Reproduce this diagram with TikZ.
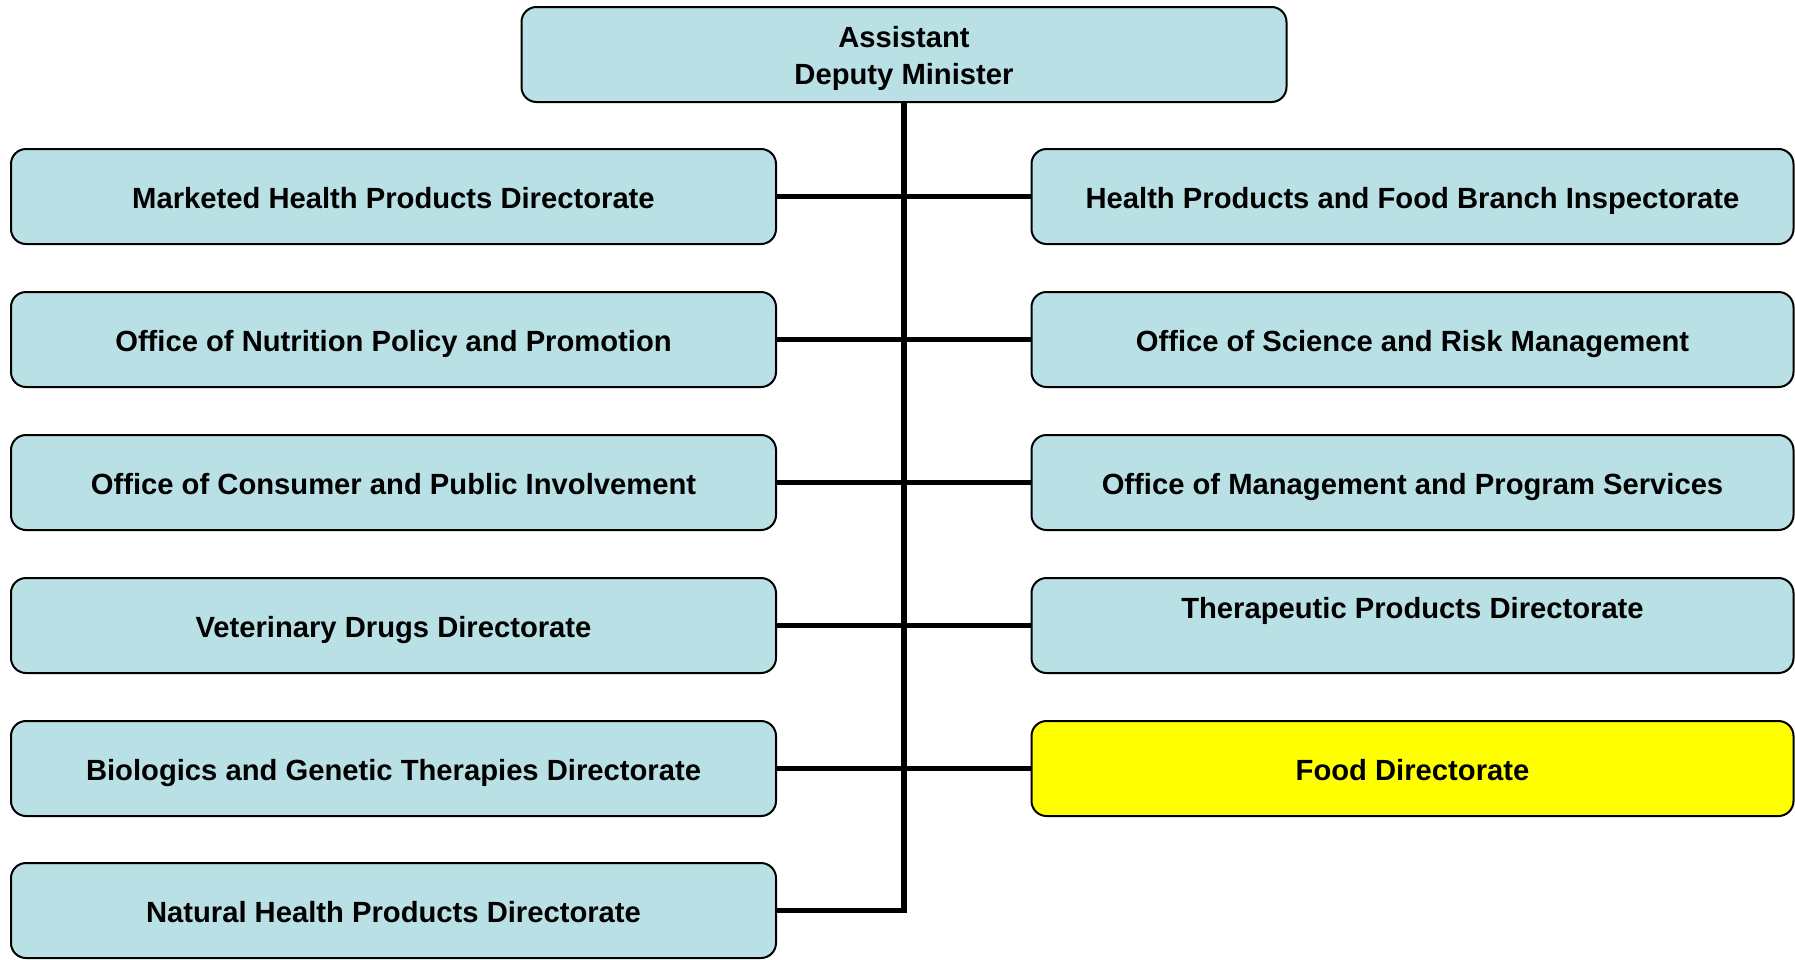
\documentclass[tikz,border=0pt]{standalone}
\usepackage{fontspec}
\setmainfont{Liberation Sans}
\usepackage{tikz}
\definecolor{powder}{RGB}{185, 224, 228}
\definecolor{lemon}{RGB}{255, 255, 0}

\begin{document}
\begin{tikzpicture}[x=1pt, y=-1pt,
        dirbox/.style  = {draw=black, line width=2pt, fill=powder, rounded corners=15pt,
                          minimum width=765pt, minimum height=95pt, inner sep=0pt, align=center,
                          text height=23.6pt, text depth=0pt,
                          font=\bfseries\fontsize{29.2}{36.6}\selectfont},
        twoline/.style = {text height=59pt},
        sidebox/.style = {dirbox, minimum width=762pt},
        foodbox/.style = {sidebox, fill=lemon},
        link/.style    = {line width=5.5pt}]
            \useasboundingbox (0,0) rectangle (1795,959);
            % head of the branch
            \node[dirbox, twoline] (adm) at ( 904.0,  54.5) {Assistant\\Deputy Minister};
            % left column
            \node[dirbox] (l1)  at ( 393.5, 196.5) {Marketed Health Products Directorate};
            \node[dirbox] (l2)  at ( 393.5, 339.5) {Office of Nutrition Policy and Promotion};
            \node[dirbox] (l3)  at ( 393.5, 482.5) {Office of Consumer and Public Involvement};
            \node[dirbox] (l4)  at ( 393.5, 625.5) {Veterinary Drugs Directorate};
            \node[dirbox] (l5)  at ( 393.5, 768.5) {Biologics and Genetic Therapies Directorate};
            \node[dirbox] (l6)  at ( 393.5, 910.5) {Natural Health Products Directorate};
            % right column
            \node[sidebox] (r1) at (1412.5, 196.5) {Health Products and Food Branch Inspectorate};
            \node[sidebox] (r2) at (1412.5, 339.5) {Office of Science and Risk Management};
            \node[sidebox] (r3) at (1412.5, 482.5) {Office of Management and Program Services};
            \node[sidebox, twoline] (r4) at (1412.5, 625.5) {Therapeutic Products Directorate\\\mbox{}};
            \node[foodbox] (r5) at (1412.5, 768.5) {Food Directorate};
            % connectors
            \draw[link] (adm.south) |- (l6.east);
            \foreach \k in {1,...,5}
                \draw[link] (l\k.east) -- (r\k.west);
\end{tikzpicture}
\end{document}
